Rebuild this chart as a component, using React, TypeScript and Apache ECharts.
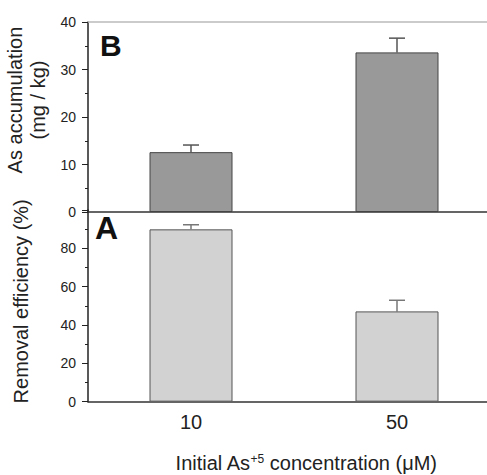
import React, { useEffect, useRef } from "react";
import * as echarts from "echarts";

const categories = ["10", "50"];
const accumulation = [12.6, 33.6];
const accumulationErr = [1.5, 3.0];
const removal = [89.9, 47.1];
const removalErr = [2.4, 5.8];

const FONT = "'Liberation Sans', Arial, Helvetica, sans-serif";
const TXT = "#222";

function errorSeries(values: number[], errs: number[], idx: number, color: string) {
  return {
    type: "custom",
    xAxisIndex: idx,
    yAxisIndex: idx,
    z: 1,
    data: values.map((v, i) => [i, v, errs[i]]),
    encode: { x: 0, y: 1 },
    renderItem: (params: any, api: any) => {
      const x = api.value(0);
      const v = api.value(1);
      const e = api.value(2);
      const p0 = api.coord([x, v]);
      const p1 = api.coord([x, v + e]);
      const style = { stroke: color, lineWidth: 1.5 };
      return {
        type: "group",
        children: [
          { type: "line", shape: { x1: p0[0], y1: p0[1], x2: p1[0], y2: p1[1] }, style },
          { type: "line", shape: { x1: p1[0] - 8, y1: p1[1], x2: p1[0] + 8, y2: p1[1] }, style },
        ],
      };
    },
  };
}

export default function App() {
  const ref = useRef<HTMLDivElement>(null);
  useEffect(() => {
    const chart = echarts.init(ref.current!, null, { renderer: "svg" });
    const yCommon = {
      type: "value",
      axisLine: { show: true, lineStyle: { color: TXT, width: 1.5 } },
      axisTick: { show: true, length: 6, lineStyle: { color: TXT, width: 1 } },
      minorTick: { show: true, splitNumber: 2, length: 3, lineStyle: { color: TXT, width: 1 } },
      splitLine: { show: false },
      axisLabel: { color: TXT, fontSize: 14, fontFamily: FONT, margin: 12 },
      nameLocation: "middle",
      nameRotate: 90,
      nameTextStyle: { color: TXT, fontSize: 20, fontFamily: FONT, lineHeight: 23 },
    };
    chart.setOption({
      animation: false,
      grid: [
        { left: 88, top: 22, width: 412, height: 190, outerBoundsMode: "none", containLabel: false },
        { left: 88, top: 210, width: 412, height: 191.67, outerBoundsMode: "none", containLabel: false },
      ],
      xAxis: [
        {
          type: "category",
          gridIndex: 0,
          data: categories,
          axisLine: { show: true, lineStyle: { color: "#333", width: 1.5 } },
          axisTick: { show: false },
          axisLabel: { show: false },
        },
        {
          type: "category",
          gridIndex: 1,
          data: categories,
          axisLine: { show: true, lineStyle: { color: "#333", width: 1.5 } },
          axisTick: { show: false },
          axisLabel: { color: TXT, fontSize: 20, fontFamily: FONT, margin: 10 },
          name: "{a|Initial As}{s|+5}{a| concentration (μM)}",
          nameLocation: "middle",
          nameGap: 51,
          nameTextStyle: {
            padding: [0, 0, 0, 24],
            rich: {
              a: { color: TXT, fontSize: 20, fontFamily: FONT },
              s: { color: TXT, fontSize: 12, fontFamily: FONT, verticalAlign: "top", padding: [0, 0, 8, 0] },
            },
          },
        },
        {
          type: "category",
          gridIndex: 0,
          position: "top",
          data: categories,
          axisLine: { show: true, lineStyle: { color: "#bbb", width: 1.5 } },
          axisTick: { show: false },
          axisLabel: { show: false },
        },
      ],
      yAxis: [
        {
          ...yCommon,
          gridIndex: 0,
          min: 0,
          max: 40,
          interval: 10,
          name: "As accumulation\n(mg / kg)",
          nameGap: 31,
          nameTextStyle: { ...yCommon.nameTextStyle, padding: [0, 0, 0, 34] },
        },
        {
          ...yCommon,
          gridIndex: 1,
          min: 0,
          max: 100,
          interval: 20,
          axisLabel: { ...yCommon.axisLabel, showMaxLabel: false },
          name: "Removal efficiency (%)",
          nameGap: 56,
          nameTextStyle: { ...yCommon.nameTextStyle, padding: [0, 0, 0, 9] },
        },
      ],
      graphic: [
        { type: "text", left: 100, top: 30, style: { text: "B", font: `bold 30px ${FONT}`, fill: "#111" } },
        { type: "text", left: 95, top: 212, style: { text: "A", font: `bold 32px ${FONT}`, fill: "#111" } },
      ],
      series: [
        {
          type: "bar",
          xAxisIndex: 0,
          yAxisIndex: 0,
          data: accumulation,
          barWidth: 83,
          z: 2,
          itemStyle: { color: "#999999", borderColor: "#444", borderWidth: 1 },
        },
        errorSeries(accumulation, accumulationErr, 0, "#555"),
        {
          type: "bar",
          xAxisIndex: 1,
          yAxisIndex: 1,
          data: removal,
          barWidth: 83,
          z: 2,
          itemStyle: { color: "#d2d2d2", borderColor: "#555", borderWidth: 1 },
        },
        errorSeries(removal, removalErr, 1, "#777"),
      ],
    });
    return () => chart.dispose();
  }, []);
  return (
    <div
      ref={ref}
      style={{ position: "fixed", left: 0, top: 0, width: 487, height: 475, background: "#fff" }}
    />
  );
}
